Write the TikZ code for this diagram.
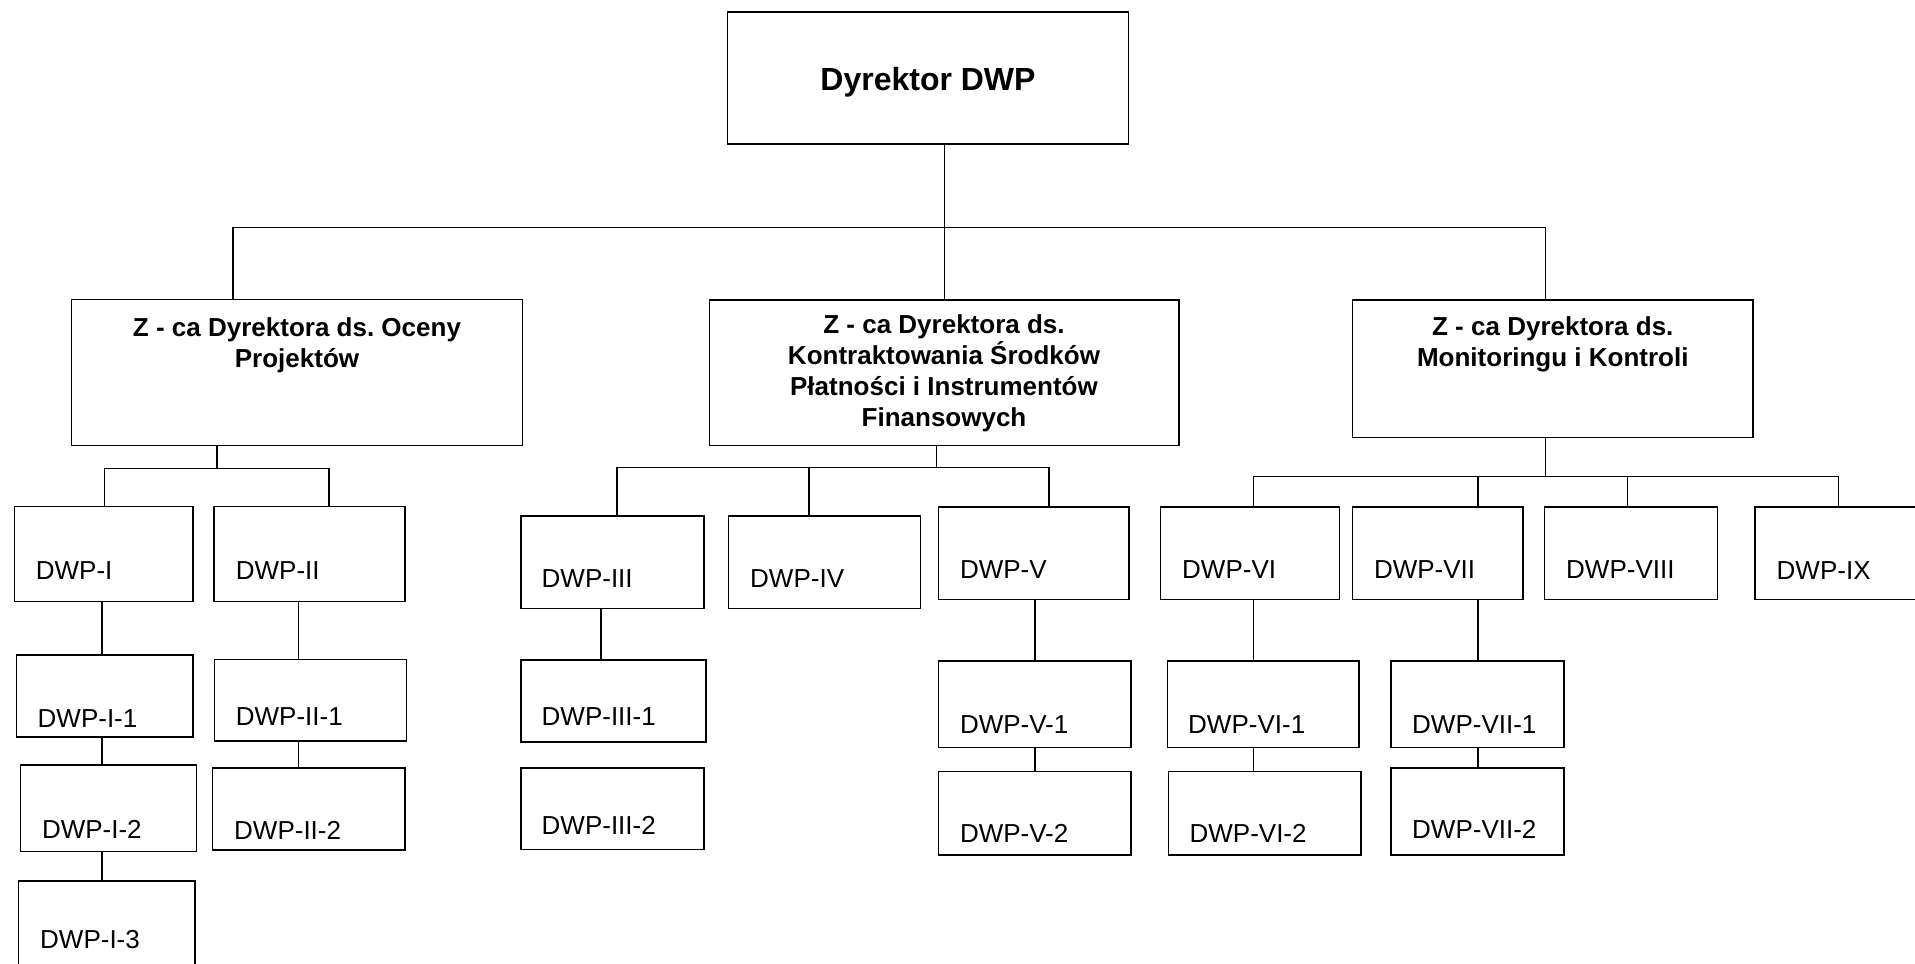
\documentclass[tikz,border=0pt]{standalone}
\usepackage{fontspec}
\setmainfont{Liberation Sans}
\frenchspacing
\begin{document}
\begin{tikzpicture}[x=1pt,y=-1pt,
  box/.style={draw,line width=1.3pt,inner sep=0pt,outer sep=0pt,anchor=north west},
  lbl/.style={inner sep=0pt,anchor=base west,font=\fontsize{26}{31}\selectfont},
  head/.style={inner sep=0pt,anchor=north,align=center,font=\fontsize{26}{31}\selectfont\bfseries},
  wire/.style={line width=1.3pt}]
\useasboundingbox (0,0) rectangle (1915,964);

% box: name, left, top, right, bottom
\newcommand{\orgbox}[5]{\node[box,minimum width={#4-#2},minimum height={#5-#3}] (#1) at (#2,#3) {};}

% top level
\orgbox{dir}{727.5}{12}{1128.7}{144}
\node[inner sep=0pt,anchor=base,font=\fontsize{32}{38}\selectfont\bfseries] (dirt) at (928,90) {Dyrektor DWP};

% deputies
\orgbox{za}{71.4}{299.6}{522.5}{445.8}
\orgbox{zb}{709.8}{300}{1179}{445.7}
\orgbox{zc}{1352.5}{300}{1753}{437.7}
\node[head] (zat) at (297,317) {Z - ca Dyrektora ds. Oceny\\Projektów};
\node[head] (zbt) at (944,314.6) {Z - ca Dyrektora ds.\\Kontraktowania Środków\\Płatności i Instrumentów\\Finansowych};
\node[head] (zct) at (1552.8,316.5) {Z - ca Dyrektora ds.\\Monitoringu i Kontroli};

% units under the first deputy
\orgbox{d1}{14.3}{506.4}{192.9}{601.6}
\orgbox{d2}{214}{506.4}{405}{601.6}
\orgbox{d11}{16.4}{655}{193}{737}
\orgbox{d12}{20.4}{765}{196.4}{851.5}
\orgbox{d13}{18.2}{881}{195}{990}
\orgbox{d21}{214.3}{659.6}{406.8}{741}
\orgbox{d22}{212.5}{768}{405}{850}
\node[lbl] (d1t) at (35.7,579) {DWP-I};
\node[lbl] (d2t) at (235.7,579) {DWP-II};
\node[lbl] (d11t) at (37.5,727) {DWP-I-1};
\node[lbl] (d12t) at (41.8,838.5) {DWP-I-2};
\node[lbl] (d13t) at (40,948) {DWP-I-3};
\node[lbl] (d21t) at (235.7,725) {DWP-II-1};
\node[lbl] (d22t) at (234,839) {DWP-II-2};

% units under the second deputy
\orgbox{d3}{521}{516}{704}{608.4}
\orgbox{d4}{728.6}{516}{920.5}{608.4}
\orgbox{d5}{938.8}{507}{1129}{599.6}
\orgbox{d31}{521}{660}{706}{742}
\orgbox{d32}{521}{768}{704}{849.5}
\orgbox{d51}{938.8}{661}{1131}{747.7}
\orgbox{d52}{938.8}{771.8}{1131}{855}
\node[lbl] (d3t) at (541.5,587.3) {DWP-III};
\node[lbl] (d4t) at (750,587.3) {DWP-IV};
\node[lbl] (d5t) at (959.8,578.5) {DWP-V};
\node[lbl] (d31t) at (541.5,725.8) {DWP-III-1};
\node[lbl] (d32t) at (541.5,834) {DWP-III-2};
\node[lbl] (d51t) at (959.8,733.5) {DWP-V-1};
\node[lbl] (d52t) at (959.8,842.6) {DWP-V-2};

% units under the third deputy
\orgbox{d6}{1160.8}{507}{1339.2}{599.6}
\orgbox{d7}{1352.5}{507}{1523}{599.6}
\orgbox{d8}{1544.8}{507}{1717.4}{599.6}
\orgbox{d9}{1755}{507}{1940}{599.6}
\orgbox{d61}{1167.2}{661}{1359}{747.7}
\orgbox{d62}{1168.7}{771.8}{1361}{855}
\orgbox{d71}{1391}{661}{1564}{747.7}
\orgbox{d72}{1391}{768}{1564}{855}
\node[lbl] (d6t) at (1182,578.5) {DWP-VI};
\node[lbl] (d7t) at (1373.8,578.5) {DWP-VII};
\node[lbl] (d8t) at (1566,578.5) {DWP-VIII};
\node[lbl] (d9t) at (1776.5,579) {DWP-IX};
\node[lbl] (d61t) at (1188,733.5) {DWP-VI-1};
\node[lbl] (d62t) at (1189.4,842.6) {DWP-VI-2};
\node[lbl] (d71t) at (1412,733.5) {DWP-VII-1};
\node[lbl] (d72t) at (1412,838.7) {DWP-VII-2};

% junction points and connector columns
\coordinate (bus) at (944.5,227.5);
\coordinate (cA) at (233,0);
\coordinate (cC) at (1545.3,0);
\coordinate (busA) at (217,468.5);
\coordinate (tA1) at (104.6,0);
\coordinate (tA2) at (329,0);
\coordinate (busB) at (936.6,467.5);
\coordinate (tB1) at (617,0);
\coordinate (tB2) at (809,0);
\coordinate (tB3) at (1049,0);
\coordinate (busC) at (1545.3,476.3);
\coordinate (tC1) at (1253.7,0);
\coordinate (tC2) at (1478,0);
\coordinate (tC3) at (1627.4,0);
\coordinate (tC4) at (1838.5,0);
\coordinate (c1) at (102,0);
\coordinate (c2) at (298.6,0);
\coordinate (c3) at (601,0);
\coordinate (c5) at (1035,0);
\coordinate (c6) at (1253.7,0);
\coordinate (c7) at (1478,0);

% director to deputies
\draw[wire] (dir.south -| bus) -- (bus);
\draw[wire] (za.north -| cA) |- (bus) -| (zc.north -| cC);
\draw[wire] (bus) -- (zb.north -| bus);

% first deputy
\draw[wire] (za.south -| busA) -- (busA);
\draw[wire] (d1.north -| tA1) |- (busA) -| (d2.north -| tA2);
\draw[wire] (d1.south -| c1) -- (d11.north -| c1);
\draw[wire] (d11.south -| c1) -- (d12.north -| c1);
\draw[wire] (d12.south -| c1) -- (d13.north -| c1);
\draw[wire] (d2.south -| c2) -- (d21.north -| c2);
\draw[wire] (d21.south -| c2) -- (d22.north -| c2);

% second deputy
\draw[wire] (zb.south -| busB) -- (busB);
\draw[wire] (d3.north -| tB1) |- (busB) -| (d5.north -| tB3);
\draw[wire] (busB -| tB2) -- (d4.north -| tB2);
\draw[wire] (d3.south -| c3) -- (d31.north -| c3);
\draw[wire] (d5.south -| c5) -- (d51.north -| c5);
\draw[wire] (d51.south -| c5) -- (d52.north -| c5);

% third deputy
\draw[wire] (zc.south -| busC) -- (busC);
\draw[wire] (d6.north -| tC1) |- (busC) -| (d9.north -| tC4);
\draw[wire] (busC -| tC2) -- (d7.north -| tC2);
\draw[wire] (busC -| tC3) -- (d8.north -| tC3);
\draw[wire] (d6.south -| c6) -- (d61.north -| c6);
\draw[wire] (d61.south -| c6) -- (d62.north -| c6);
\draw[wire] (d7.south -| c7) -- (d71.north -| c7);
\draw[wire] (d71.south -| c7) -- (d72.north -| c7);
\end{tikzpicture}
\end{document}
